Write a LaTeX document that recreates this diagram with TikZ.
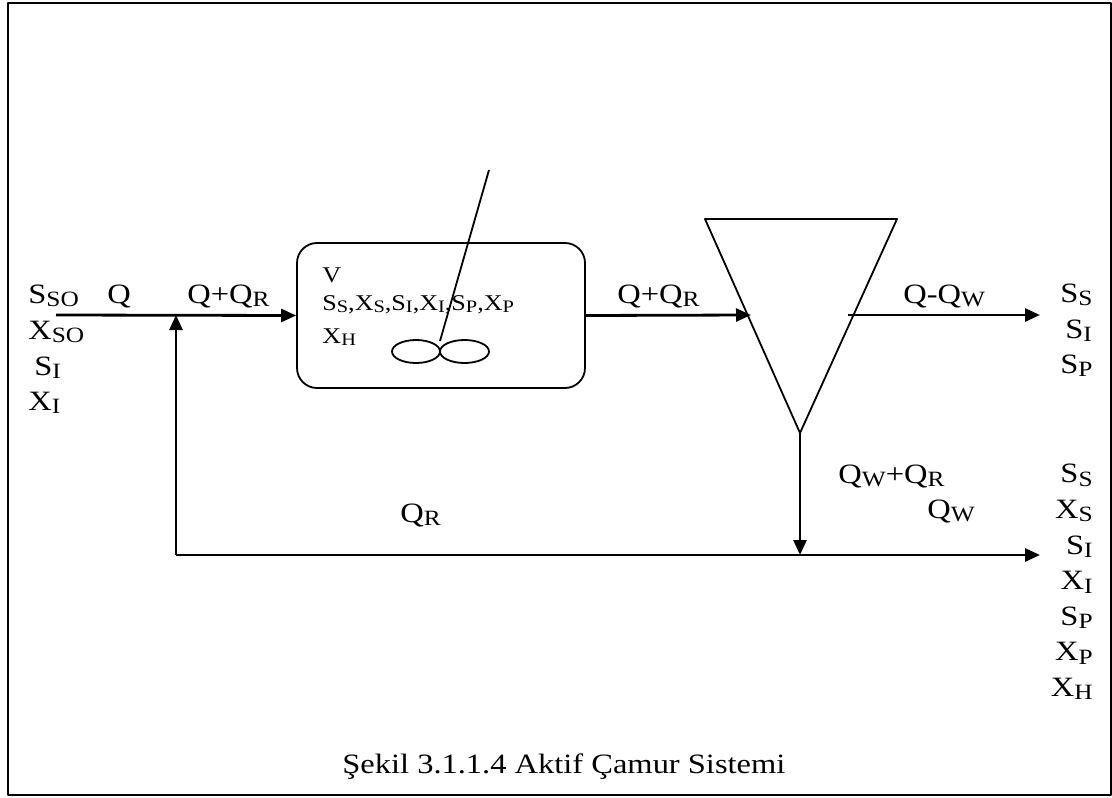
\documentclass[tikz,border=0pt]{standalone}
\usepackage{fontspec}
\setmainfont{Liberation Serif}[FakeStretch=1.16]
\usetikzlibrary{arrows.meta}
\tikzset{
  every picture/.style={line join=round, >={Triangle[length=7.5pt,width=6.5pt]}},
  lbl/.style={inner sep=0pt, anchor=base west, font=\fontsize{14}{16}\selectfont},
  boxtxt/.style={inner sep=0pt, anchor=base west, font=\fontsize{11.25}{13}\selectfont},
  flow/.style={line width=1.4pt},
  thinline/.style={line width=0.9pt},
}
\newcommand{\ix}[2]{#1\raisebox{-0.12em}{\scalebox{0.78}{#2}}}

\begin{document}
\begin{tikzpicture}[x=0.5pt,y=-0.5pt]
\useasboundingbox (0,0) rectangle (1112,797);
\draw[thinline] (8,3) rectangle (1111,795);
% aeration tank
\node[draw,thinline,rounded corners=10pt,minimum width=144pt,minimum height=72.5pt] (reactor) at (441,315.5) {};
\node[boxtxt] (vol) at (322,282) {V};
\node[boxtxt] (comp) at (322,310) {\ix{S}{S},\ix{X}{S},\ix{S}{I},\ix{X}{I},\ix{S}{P},\ix{X}{P}};
\node[boxtxt] (xh) at (322,343) {\ix{X}{H}};
% mixer
\coordinate (shaft) at (489,170);
\coordinate (hub) at (440,341);
\draw[thinline] (shaft)--(hub);
\draw[thinline] (416,351.5) ellipse [x radius=12pt, y radius=5.75pt];
\draw[thinline] (464.5,351.5) ellipse [x radius=12.25pt, y radius=5.75pt];
% settling tank
\coordinate (sTL) at (705,219);
\coordinate (sTR) at (897,219);
\coordinate (apex) at (800,433);
\draw[thinline] (sTL)--(sTR)--(apex)--cycle;
% flows
\coordinate (feed) at (56,315);
\coordinate (mix) at (176,315);
\coordinate (mixlow) at (176,555);
\coordinate (split) at (800,555);
\coordinate (setin) at (751,315);
\coordinate (setout) at (848,315);
\coordinate (effl) at (1040,315);
\coordinate (waste) at (1040,555);
\draw[flow,->](feed)--(reactor.west);
\draw[flow,->](mixlow)--(mix);
\draw[flow,->](reactor.east)--(setin);
\draw[flow,->](setout)--(effl);
\draw[flow,->](apex)--(split);
\draw[flow,->](mixlow)--(waste);
% labels
\node[lbl] (inS) at (28,303) {\ix{S}{SO}};
\node[lbl] (inX) at (28,339) {\ix{X}{SO}};
\node[lbl] (inSI) at (34,375) {\ix{S}{I}};
\node[lbl] (inXI) at (28,410) {\ix{X}{I}};
\node[lbl] (q) at (107,303) {Q};
\node[lbl] (qin) at (187,303) {Q+\ix{Q}{R}};
\node[lbl] (qout) at (617,303) {Q+\ix{Q}{R}};
\node[lbl] (qeff) at (903,303) {Q-\ix{Q}{W}};
\node[lbl] (effS) at (1060,302) {\ix{S}{S}};
\node[lbl] (effSI) at (1065,338) {\ix{S}{I}};
\node[lbl] (effSP) at (1060,373) {\ix{S}{P}};
\node[lbl] (qund) at (838,483) {\ix{Q}{W}+\ix{Q}{R}};
\node[lbl] (qw) at (927,518) {\ix{Q}{W}};
\node[lbl] (qr) at (400,522) {\ix{Q}{R}};
\foreach \v/\s [count=\k] in {S/S,X/S,S/I,X/I,S/P,X/P,X/H}
  \node[lbl,anchor=base east] (out\k) at (1093,{447.3+35.6*\k}) {\ix{\v}{\s}};
\node[lbl] (caption) at (342,773) {Şekil 3.1.1.4 Aktif Çamur Sistemi};
\end{tikzpicture}
\end{document}
